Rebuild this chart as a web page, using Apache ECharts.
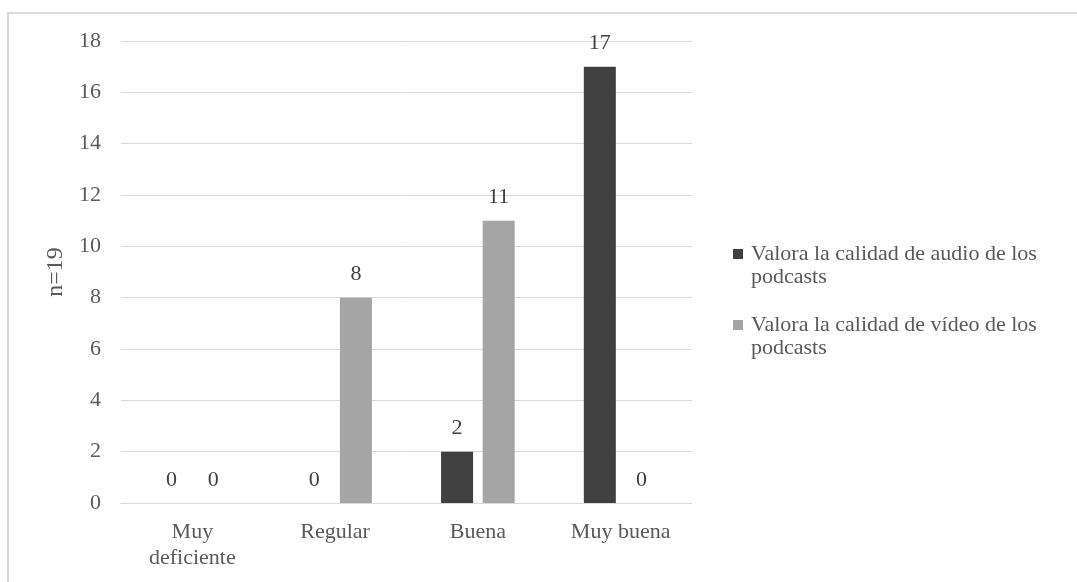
<!DOCTYPE html>
<html>
<head>
<meta charset="utf-8">
<script src="https://cdn.jsdelivr.net/npm/echarts@6/dist/echarts.min.js"></script>
<style>
html,body{margin:0;padding:0;background:#fff;}
#chart{width:1077px;height:582px;}
</style>
</head>
<body>
<div id="chart"></div>
<script>
var categories = ['Muy\ndeficiente', 'Regular', 'Buena', 'Muy buena'];
var audioName = 'Valora la calidad de audio de los podcasts';
var videoName = 'Valora la calidad de vídeo de los podcasts';
var audioValues = [0, 0, 2, 17];
var videoValues = [0, 8, 11, 0];
var yTicks = { min: 0, max: 18, interval: 2 };
var yAxisTitle = 'n=19';

var FONT = "'Liberation Serif', 'Times New Roman', serif";
var chart = echarts.init(document.getElementById('chart'), null, { renderer: 'canvas' });

function legendFormatter(name) {
  return name.replace(' de los podcasts', ' de los\npodcasts');
}
// square icon aligned with first text line (box 13 x 46, square 10x10 at top)
var legendIcon = 'path://M0,0L0.01,0M0,6L10,6L10,16L0,16ZM13,46L12.99,46';
var legendText = { fontFamily: FONT, fontSize: 22, color: '#595959', lineHeight: 23 };

chart.setOption({
  animation: false,
  backgroundColor: '#ffffff',
  graphic: [{
    type: 'polyline', silent: true, z: -10,
    shape: { points: [[8, 700], [8, 13], [1200, 13]] },
    style: { fill: 'none', stroke: '#d9d9d9', lineWidth: 2 }
  }],
  grid: { left: 121, right: 385, top: 41, bottom: 79, containLabel: false },
  legend: [{
    data: [audioName], orient: 'vertical', left: 733, top: 243, padding: 0,
    itemWidth: 13, itemHeight: 46, icon: legendIcon,
    formatter: legendFormatter, textStyle: legendText, selectedMode: false
  }, {
    data: [videoName], orient: 'vertical', left: 733, top: 314, padding: 0,
    itemWidth: 13, itemHeight: 46, icon: legendIcon,
    formatter: legendFormatter, textStyle: legendText, selectedMode: false
  }],
  xAxis: {
    type: 'category', data: categories,
    axisLine: { show: true, lineStyle: { color: '#d9d9d9', width: 1 } },
    axisTick: { show: false },
    axisLabel: { fontFamily: FONT, fontSize: 22, color: '#595959', margin: 16, lineHeight: 26, interval: 0 }
  },
  yAxis: {
    type: 'value', min: yTicks.min, max: yTicks.max, interval: yTicks.interval,
    name: yAxisTitle, nameLocation: 'middle', nameRotate: 90, nameGap: 53,
    nameTextStyle: { fontFamily: FONT, fontSize: 24, color: '#595959' },
    axisLine: { show: false }, axisTick: { show: false },
    axisLabel: { fontFamily: FONT, fontSize: 22, color: '#595959', margin: 20 },
    splitLine: { show: true, lineStyle: { color: '#d9d9d9', width: 1 } }
  },
  series: [{
    name: audioName, type: 'bar', data: audioValues,
    barWidth: 32, barGap: '30%',
    itemStyle: { color: '#404040' },
    label: { show: true, position: 'top', distance: 12, fontFamily: FONT, fontSize: 22, color: '#404040' }
  }, {
    name: videoName, type: 'bar', data: videoValues,
    barWidth: 32, barGap: '30%',
    itemStyle: { color: '#a5a5a5' },
    label: { show: true, position: 'top', distance: 12, fontFamily: FONT, fontSize: 22, color: '#404040' }
  }]
});
</script>
</body>
</html>
